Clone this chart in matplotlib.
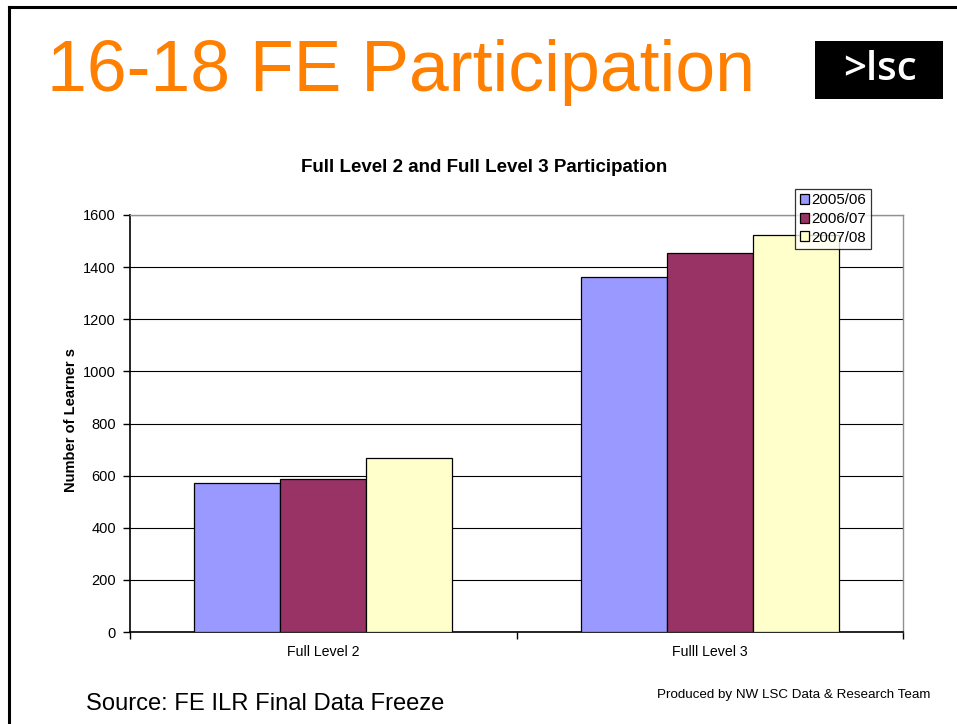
import matplotlib
matplotlib.use("Agg")
import matplotlib.pyplot as plt
from matplotlib.lines import Line2D
from matplotlib.patches import Rectangle
import numpy as np

plt.rcParams['font.family'] = ['Liberation Sans', 'DejaVu Sans']

categories = ["Full Level 2", "Fulll Level 3"]
series_names = ["2005/06", "2006/07", "2007/08"]
values_0506 = [571, 1363]
values_0607 = [587, 1454]
values_0708 = [668, 1523]
y_ticks = [0, 200, 400, 600, 800, 1000, 1200, 1400, 1600]
colors = ["#9999FF", "#993366", "#FFFFCC"]

W, H = 957, 724
fig = plt.figure(figsize=(W / 100, H / 100), dpi=100)
fig.patch.set_facecolor("white")

# slide border
fig.add_artist(Line2D([9 / W, 9 / W], [0, 1 - 7 / H], transform=fig.transFigure, color="black", lw=2.2))
fig.add_artist(Line2D([9 / W, 1], [1 - 7 / H, 1 - 7 / H], transform=fig.transFigure, color="black", lw=2.2))

# big title
fig.text(47 / W, 1 - 73 / H, "16-18 FE Participation", fontsize=51.5, color="#FF8000",
         ha="left", va="center")

# logo
fig.add_artist(Rectangle((815 / W, 1 - 99 / H), 128 / W, 58 / H, transform=fig.transFigure,
                         facecolor="black", edgecolor="none"))
fig.text(880 / W, 1 - 70 / H, ">lsc", fontsize=29, color="white", fontweight="semibold",
         family=["Open Sans", "DejaVu Sans"], ha="center", va="center")

# chart
ax = fig.add_axes([130 / W, 1 - 632 / H, 773 / W, 417 / H])
x = np.arange(len(categories)) + 0.5
bw = 0.2225
all_vals = [values_0506, values_0607, values_0708]
for i, (name, vals, c) in enumerate(zip(series_names, all_vals, colors)):
    ax.bar(x + (i - 1) * bw, vals, width=bw, color=c, edgecolor="black", linewidth=0.9,
           label=name, zorder=3)

ax.set_xlim(0, len(categories))
ax.set_ylim(0, 1600)
ax.set_yticks(y_ticks)
ax.set_yticklabels([str(v) for v in y_ticks], fontsize=10.5)
ax.yaxis.grid(True, color="black", lw=0.8, zorder=0)
ax.set_axisbelow(True)
ax.set_xticks([0, 1, 2])
ax.set_xticklabels([])
ax.set_xticks(x, minor=True)
ax.set_xticklabels(categories, minor=True, fontsize=10.2)
ax.tick_params(axis="x", which="minor", length=0, pad=9)
ax.tick_params(axis="x", which="major", length=5, width=1, direction="out")
ax.tick_params(axis="y", length=5, width=1, direction="out", pad=5)
for s in ["top", "right"]:
    ax.spines[s].set_color("#909090")
    ax.spines[s].set_linewidth(1)
for s in ["left", "bottom"]:
    ax.spines[s].set_color("black")
    ax.spines[s].set_linewidth(1.2)

fig.text(71 / W, 1 - 420 / H, "Number of Learner s", fontsize=10.5, fontweight="bold",
         rotation=90, ha="center", va="center")
fig.text(484 / W, 1 - 167 / H, "Full Level 2 and Full Level 3 Participation", fontsize=13.5,
         fontweight="bold", ha="center", va="center")

leg = ax.legend(loc="upper left", bbox_to_anchor=(795 / W, 1 - 189 / H), bbox_transform=fig.transFigure,
                fontsize=10.8, frameon=True, fancybox=False, borderpad=0.3, labelspacing=0.3,
                handlelength=0.65, handleheight=0.65, handletextpad=0.15, borderaxespad=0)
leg.get_frame().set_edgecolor("black")
leg.get_frame().set_linewidth(0.9)
leg.set_zorder(10)

fig.text(86 / W, 1 - 704 / H, "Source: FE ILR Final Data Freeze", fontsize=17.1, ha="left", va="center")
fig.text(930 / W, 1 - 695 / H, "Produced by NW LSC Data & Research Team", fontsize=9.6,
         ha="right", va="center")

fig.savefig("out.png", dpi=100)
